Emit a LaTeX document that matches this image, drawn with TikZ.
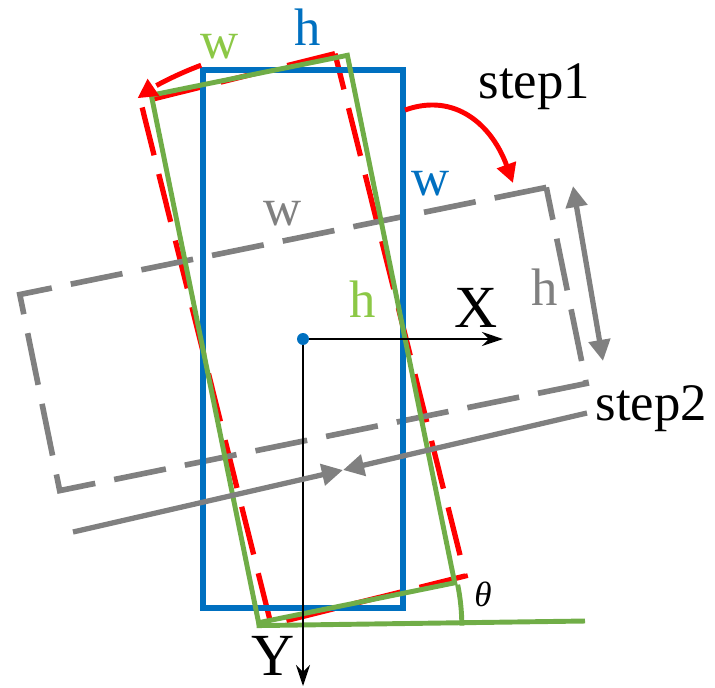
\documentclass[tikz,border=0pt]{standalone}
\usepackage{fontspec}
\setmainfont{Liberation Serif}
\usetikzlibrary{positioning,arrows.meta}
\definecolor{boxblue}{RGB}{0,112,192}
\definecolor{boxgreen}{RGB}{112,173,71}
\definecolor{txtgreen}{RGB}{140,200,70}
\definecolor{boxgray}{RGB}{128,128,128}
\definecolor{boxred}{RGB}{255,0,0}

\begin{document}
\begin{tikzpicture}[
  x=0.01cm, y=0.01cm,
  font=\fontsize{15}{18}\selectfont,
  lbl/.style={anchor=base, inner sep=0pt},
  axlbl/.style={anchor=base, inner sep=0pt, font=\fontsize{17}{20}\selectfont},
  bluebox/.style={draw=boxblue, line width=1.7pt, minimum width=2cm, minimum height=5.38cm, inner sep=0pt},
  greenbox/.style={draw=boxgreen, line width=1.4pt, minimum width=2cm, minimum height=5.38cm, inner sep=0pt},
  redbox/.style={draw=boxred, line width=1.5pt, dash pattern=on 14pt off 5.5pt, minimum width=2cm, minimum height=5.38cm, inner sep=0pt},
  graybox/.style={draw=boxgray, line width=1.6pt, dash pattern=on 15pt off 5.5pt, minimum width=5.37cm, minimum height=2cm, inner sep=0pt},
  axis/.style={-{Stealth[length=6pt, width=4pt]}, line width=0.6pt, black},
  move/.style={-{Triangle[length=6pt, width=6pt]}, line width=1.5pt, boxgray},
  turn/.style={-{Triangle[length=5.5pt, width=5.5pt]}, line width=1.4pt, boxred}
]
  \useasboundingbox (0,0) rectangle (715,-687);
  \coordinate (c) at (303,-339);

  % rotated copies of the box
  \node[redbox, rotate=14] (red) at (c) {};
  \node[graybox, rotate=11.5] (gray) at (c) {};
  \node[bluebox] (blue) at (c) {};
  \node[greenbox, rotate=11.5] (green) at (c) {};

  % angle to the ground line
  \coordinate (groundend) at (585,-621);
  \draw[boxgreen, line width=1.4pt] (green.south west) -- (groundend);
  \draw[boxgreen, line width=1.4pt] (green.south west) ++(2.05cm,0) arc[start angle=0, end angle=11.5, radius=2.05cm];
  \node[lbl, font=\fontsize{10}{12}\selectfont\itshape] (theta) at (483,-606) {θ};

  % axes
  \coordinate (xend) at (503,-339);
  \coordinate (yend) at (303,-686);
  \draw[axis] (c) -- (xend);
  \draw[axis] (c) -- (yend);
  \fill[boxblue] (c) circle[radius=1.7pt];
  \node[axlbl] (xlbl) at (476,-327) {X};
  \node[axlbl] (ylbl) at (273,-675) {Y};

  % step 1: rotation
  \draw[turn, dash pattern=on 14pt off 5.5pt] (c) ++(110.4:2.92cm) arc[start angle=110.4, end angle=124.5, radius=2.92cm];
  \coordinate (s1a) at (405,-110);
  \coordinate (s1b) at (513,-183);
  \draw[turn] (s1a) .. controls (455,-92) and (492,-125) .. (s1b);
  \node[lbl, anchor=base west] (step1) at (478,-98) {step1};

  % step 2: shift
  \coordinate (meet) at (343,-470);
  \coordinate (s2a) at (587,-413);
  \coordinate (s2b) at (73,-532);
  \draw[move] (s2a) -- (meet);
  \draw[move] (s2b) -- (meet);
  \node[lbl, anchor=base west] (step2) at (595,-420) {step2};

  % gray height
  \coordinate (hup) at (573,-186);
  \coordinate (hdn) at (603,-361);
  \draw[move, {Triangle[length=6pt, width=6pt]}-{Triangle[length=6pt, width=6pt]}] (hup) -- (hdn);

  % side labels
  \node[lbl, text=txtgreen] (wgreen) at (220,-58) {w};
  \node[lbl, text=boxblue] (hblue) at (308,-45) {h};
  \node[lbl, text=boxblue] (wblue) at (431,-195) {w};
  \node[lbl, text=boxgray] (wgray) at (283,-225) {w};
  \node[lbl, text=txtgreen] (hgreen) at (363,-317) {h};
  \node[lbl, text=boxgray] (hgray) at (545,-305) {h};
\end{tikzpicture}
\end{document}
